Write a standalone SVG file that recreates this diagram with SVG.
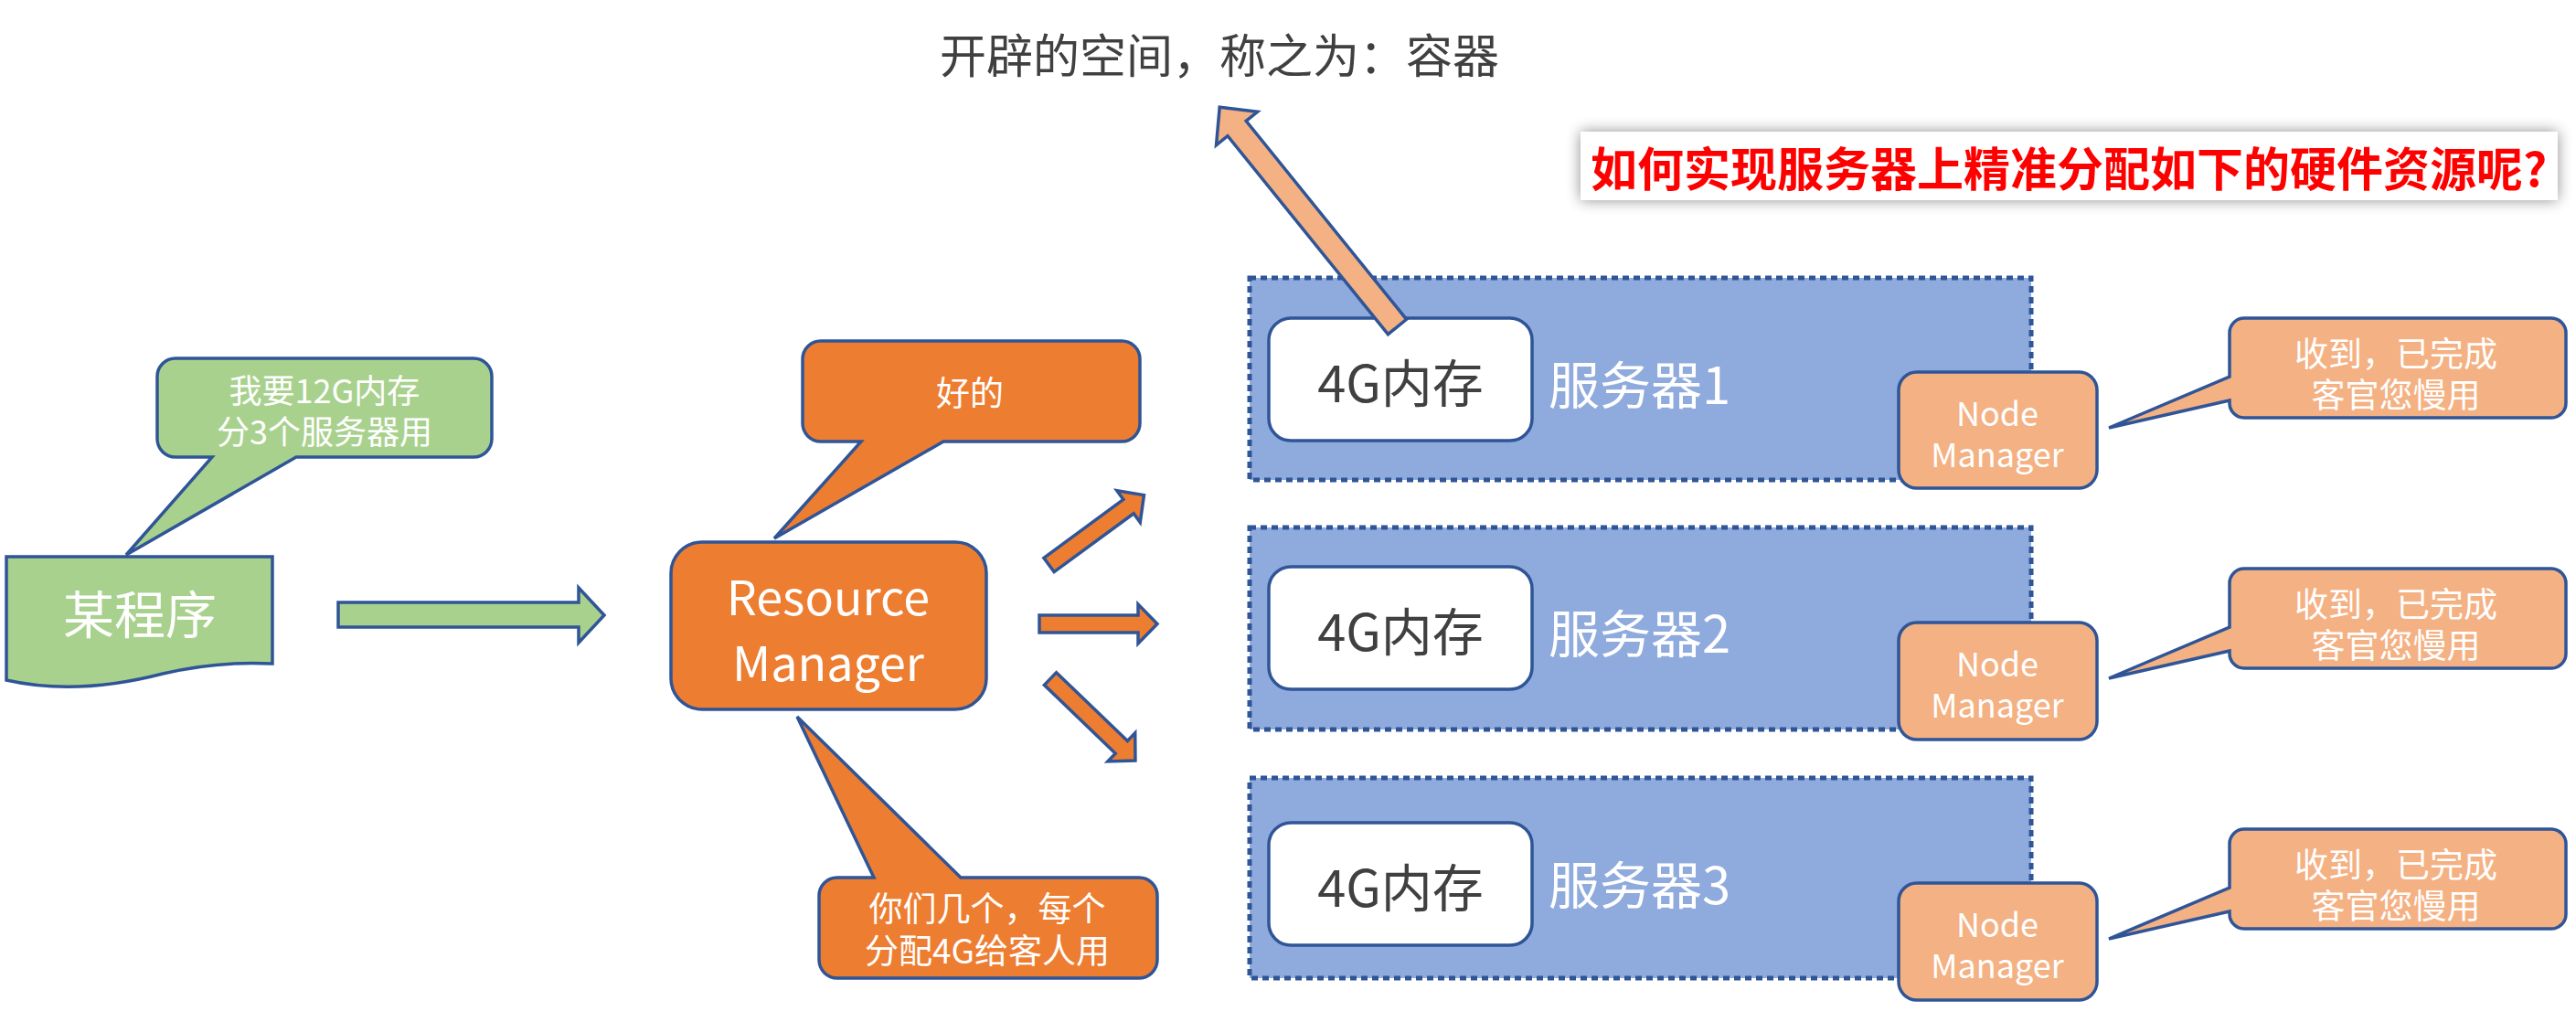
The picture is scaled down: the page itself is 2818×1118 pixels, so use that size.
<svg xmlns="http://www.w3.org/2000/svg" width="2818" height="1118" viewBox="0 0 2818 1118">
<defs>
<style>
.txt{font-family:"Noto Sans CJK SC","Liberation Sans",sans-serif;}
.ol{stroke:#2F5597;stroke-width:3.5;stroke-linejoin:miter;}
.green{fill:#A9D18E;}
.orange{fill:#ED7D31;}
.peach{fill:#F4B183;}
.server{fill:#8FAADC;stroke:#2F5597;stroke-width:5;stroke-dasharray:7 5;}
.mem{fill:#FFFFFF;stroke:#2F5597;stroke-width:3.5;}
.w{fill:#FFFFFF;}
.dark{fill:#404040;}
</style>
<filter id="sh" x="-5%" y="-60%" width="110%" height="220%">
<feGaussianBlur in="SourceAlpha" stdDeviation="8"/>
<feComponentTransfer><feFuncA type="linear" slope="0.45"/></feComponentTransfer>
<feMerge><feMergeNode/><feMergeNode in="SourceGraphic"/></feMerge>
</filter>
<path id="smallArrow" d="M0,-9.5 H108 V-21.5 L129,0 L108,21.5 V9.5 H0 Z"/>
</defs>
<rect width="2818" height="1118" fill="#FFFFFF"/>

<g id="title">
<text class="txt dark" x="1334" y="58" font-size="51" text-anchor="middle" dominant-baseline="central">开辟的空间，称之为：容器</text>
</g>

<g id="question">
<rect x="1729" y="144" width="1069" height="75" fill="#FFFFFF" filter="url(#sh)"/>
<text class="txt" x="2263" y="182" font-size="51" font-weight="bold" fill="#FF0000" text-anchor="middle" dominant-baseline="central">如何实现服务器上精准分配如下的硬件资源呢?</text>
</g>

<g id="program">
<path class="green ol" d="M7,609 H298 V726 C260,724 220,727 178,737 C120,752 60,756 7,744 Z"/>
<text class="txt w" x="153" y="668" font-size="56" text-anchor="middle" dominant-baseline="central">某程序</text>
</g>

<g id="program-callout">
<path class="green ol" d="M192,392 H518 A20,20 0 0 1 538,412 V480 A20,20 0 0 1 518,500 H324 L138,607 L232,500 H192 A20,20 0 0 1 172,480 V412 A20,20 0 0 1 192,392 Z"/>
<text class="txt w" font-size="36" text-anchor="middle" dominant-baseline="central"><tspan x="355" y="425">我要12G内存</tspan><tspan x="355" y="470">分3个服务器用</tspan></text>
</g>

<g id="resource-manager">
<rect class="orange ol" x="734" y="593" width="345" height="183" rx="34" ry="34"/>
<text class="txt w" font-size="52" text-anchor="middle" dominant-baseline="central"><tspan x="906" y="650">Resource</tspan><tspan x="906" y="722">Manager</tspan></text>
</g>

<g id="rm-callout-ok">
<path class="orange ol" d="M898,373 H1227 A20,20 0 0 1 1247,393 V463 A20,20 0 0 1 1227,483 H1032 L847,589 L942,483 H898 A20,20 0 0 1 878,463 V393 A20,20 0 0 1 898,373 Z"/>
<text class="txt w" x="1061" y="428" font-size="37" text-anchor="middle" dominant-baseline="central">好的</text>
</g>

<g id="rm-callout-assign">
<path class="orange ol" d="M916,960 H956 L872,784 L1051,960 H1246 A20,20 0 0 1 1266,980 V1050 A20,20 0 0 1 1246,1070 H916 A20,20 0 0 1 896,1050 V980 A20,20 0 0 1 916,960 Z"/>
<text class="txt w" font-size="37" text-anchor="middle" dominant-baseline="central"><tspan x="1080" y="992">你们几个，每个</tspan><tspan x="1080" y="1038">分配4G给客人用</tspan></text>
</g>

<g id="server1">
<rect class="server" x="1367" y="304" width="855" height="221"/>
<rect class="mem" x="1388" y="348" width="288" height="134" rx="24" ry="24"/>
<text class="txt dark" x="1532" y="415" font-size="56" text-anchor="middle" dominant-baseline="central">4G内存</text>
<text class="txt w" x="1694" y="417" font-size="56" dominant-baseline="central">服务器1</text>
</g>
<g id="server2">
<rect class="server" x="1367" y="577" width="855" height="221"/>
<rect class="mem" x="1388" y="620" width="288" height="134" rx="24" ry="24"/>
<text class="txt dark" x="1532" y="687" font-size="56" text-anchor="middle" dominant-baseline="central">4G内存</text>
<text class="txt w" x="1694" y="689" font-size="56" dominant-baseline="central">服务器2</text>
</g>
<g id="server3">
<rect class="server" x="1367" y="851" width="855" height="219"/>
<rect class="mem" x="1388" y="900" width="288" height="134" rx="24" ry="24"/>
<text class="txt dark" x="1532" y="967" font-size="56" text-anchor="middle" dominant-baseline="central">4G内存</text>
<text class="txt w" x="1694" y="964" font-size="56" dominant-baseline="central">服务器3</text>
</g>

<g id="node-manager1">
<rect class="peach ol" x="2077" y="407" width="217" height="127" rx="20" ry="20"/>
<text class="txt w" font-size="36" text-anchor="middle" dominant-baseline="central"><tspan x="2185" y="450">Node</tspan><tspan x="2185" y="495">Manager</tspan></text>
</g>
<g id="node-manager2">
<rect class="peach ol" x="2077" y="681" width="217" height="128" rx="20" ry="20"/>
<text class="txt w" font-size="36" text-anchor="middle" dominant-baseline="central"><tspan x="2185" y="724">Node</tspan><tspan x="2185" y="769">Manager</tspan></text>
</g>
<g id="node-manager3">
<rect class="peach ol" x="2077" y="966" width="217" height="128" rx="20" ry="20"/>
<text class="txt w" font-size="36" text-anchor="middle" dominant-baseline="central"><tspan x="2185" y="1009">Node</tspan><tspan x="2185" y="1054">Manager</tspan></text>
</g>

<g id="nm-callout1">
<path class="peach ol" d="M2455,348 H2791 A16,16 0 0 1 2807,364 V441 A16,16 0 0 1 2791,457 H2455 A16,16 0 0 1 2439,441 V438 L2307,468 L2439,412 V364 A16,16 0 0 1 2455,348 Z"/>
<text class="txt w" font-size="37" text-anchor="middle" dominant-baseline="central"><tspan x="2621" y="385">收到，已完成</tspan><tspan x="2621" y="430">客官您慢用</tspan></text>
</g>
<g id="nm-callout2" transform="translate(0,274)">
<path class="peach ol" d="M2455,348 H2791 A16,16 0 0 1 2807,364 V441 A16,16 0 0 1 2791,457 H2455 A16,16 0 0 1 2439,441 V438 L2307,468 L2439,412 V364 A16,16 0 0 1 2455,348 Z"/>
<text class="txt w" font-size="37" text-anchor="middle" dominant-baseline="central"><tspan x="2621" y="385">收到，已完成</tspan><tspan x="2621" y="430">客官您慢用</tspan></text>
</g>
<g id="nm-callout3" transform="translate(0,559)">
<path class="peach ol" d="M2455,348 H2791 A16,16 0 0 1 2807,364 V441 A16,16 0 0 1 2791,457 H2455 A16,16 0 0 1 2439,441 V438 L2307,468 L2439,412 V364 A16,16 0 0 1 2455,348 Z"/>
<text class="txt w" font-size="37" text-anchor="middle" dominant-baseline="central"><tspan x="2621" y="385">收到，已完成</tspan><tspan x="2621" y="430">客官您慢用</tspan></text>
</g>

<g id="connectors">
<path class="green ol" d="M370,659 H633 V643 L661,673 L633,703 V686 H370 Z"/>
<use href="#smallArrow" class="orange ol" transform="translate(1147.5,618) rotate(-36.3)"/>
<use href="#smallArrow" class="orange ol" transform="translate(1137,682.5)"/>
<use href="#smallArrow" class="orange ol" transform="translate(1149,742.5) rotate(43.9)"/>
<path class="peach ol" d="M0,-13 H279 V-29 L309,0 L279,29 V13 H0 Z" transform="translate(1528.5,357.5) rotate(-128.96)"/>
</g>
</svg>
